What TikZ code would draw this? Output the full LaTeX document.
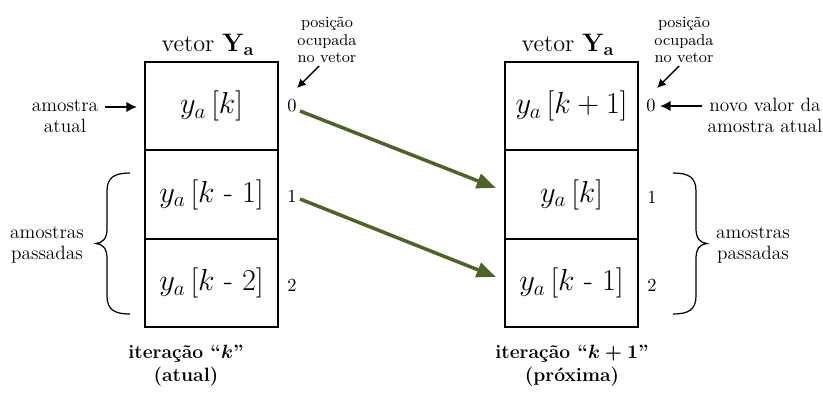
\documentclass[tikz,border=0pt]{standalone}
\usepackage{amsmath}
\usetikzlibrary{arrows.meta}
\definecolor{arrowgreen}{HTML}{4F6228}
\begin{document}
\begin{tikzpicture}[x=0.57pt,y=-0.57pt,
  cell/.style={draw,line width=1.2pt,minimum width=75.8pt,minimum height=50.4pt,inner sep=0pt,font=\LARGE},
  head/.style={font=\fontsize{13.8}{16}\selectfont,inner sep=0pt},
  idx/.style={font=\fontsize{10.5}{12}\selectfont,inner sep=1pt},
  note/.style={font=\fontsize{9}{10.2}\selectfont,align=center,inner sep=0pt},
  lbl/.style={font=\fontsize{11}{12}\selectfont,align=center,inner sep=0pt},
  bot/.style={font=\fontsize{11}{13}\selectfont\bfseries\boldmath,align=center,inner sep=0pt},
  garrow/.style={draw=arrowgreen,line width=2pt,-{Triangle[length=11pt,width=8.5pt]},fill=arrowgreen},
  barrow/.style={line width=1.3pt,-{Latex[length=6pt,width=6pt]}},
  parrow/.style={line width=0.8pt,-{Latex[length=5pt,width=5pt]}},
  brc/.style={line width=0.7pt}]
\useasboundingbox (0,0) rectangle (823,401);
% left vector
\node[head] (hL) at (208,45) {vetor $\mathbf{Y_a}$};
\node[cell] (L0) at (211.5,106) {$y_a\left[k\right]$};
\node[cell] (L1) at (211.5,194.5) {$y_a\left[k\text{ - }1\right]$};
\node[cell] (L2) at (211.5,283) {$y_a\left[k\text{ - }2\right]$};
\node[idx] (li0) at (292,106) {0};
\node[idx] (li1) at (292,196) {1};
\node[idx] (li2) at (292,285) {2};
% right vector
\node[head] (hR) at (568,45) {vetor $\mathbf{Y_a}$};
\node[cell] (R0) at (571.5,106) {$y_a\left[k+1\right]$};
\node[cell] (R1) at (571.5,194.5) {$y_a\left[k\right]$};
\node[cell] (R2) at (571.5,283) {$y_a\left[k\text{ - }1\right]$};
\node[idx] (ri0) at (651,106) {0};
\node[idx] (ri1) at (652,197) {1};
\node[idx] (ri2) at (652,285) {2};
% notes
\node[note] (posL) at (327,40) {posição\\ocupada\\no vetor};
\node[note] (posR) at (684,40) {posição\\ocupada\\no vetor};
\coordinate (pLs) at (319,66);
\coordinate (pLe) at (297,88);
\coordinate (pRs) at (679,66);
\coordinate (pRe) at (657,88);
\draw[parrow] (pLs) -- (pLe);
\draw[parrow] (pRs) -- (pRe);
\node[lbl] (aa) at (65,116) {amostra\\atual};
\coordinate (aas) at (105,107);
\coordinate (aae) at (137,107);
\draw[barrow] (aas) -- (aae);
\node[lbl] (nv) at (765,115) {novo valor da\\amostra atual};
\coordinate (nvs) at (702,106);
\coordinate (nve) at (660,106);
\draw[barrow] (nvs) -- (nve);
% braces
\draw[brc] (130,173) .. controls (115,173) and (107,177) .. (107,191) -- (107,229)
  .. controls (107,238) and (103,243) .. (96,243.5)
  .. controls (103,244) and (107,249) .. (107,258) -- (107,296)
  .. controls (107,310) and (115,314) .. (130,314);
\node[lbl] (apL) at (47,245) {amostras\\passadas};
\draw[brc] (673,173) .. controls (688,173) and (696,177) .. (696,191) -- (696,229)
  .. controls (696,238) and (700,243) .. (707,243.5)
  .. controls (700,244) and (696,249) .. (696,258) -- (696,296)
  .. controls (696,310) and (688,314) .. (673,314);
\node[lbl] (apR) at (753,245) {amostras\\passadas};
% green arrows
\coordinate (g1s) at (300,111);
\coordinate (g1e) at (496,188);
\coordinate (g2s) at (300,199);
\coordinate (g2e) at (496,277);
\draw[garrow] (g1s) -- (g1e);
\draw[garrow] (g2s) -- (g2e);
% bottom labels
\node[bot] (itL) at (186,366) {iteração ``$k$''\\(atual)};
\node[bot] (itR) at (572,366) {iteração ``$k+1$''\\(próxima)};
\end{tikzpicture}
\end{document}
